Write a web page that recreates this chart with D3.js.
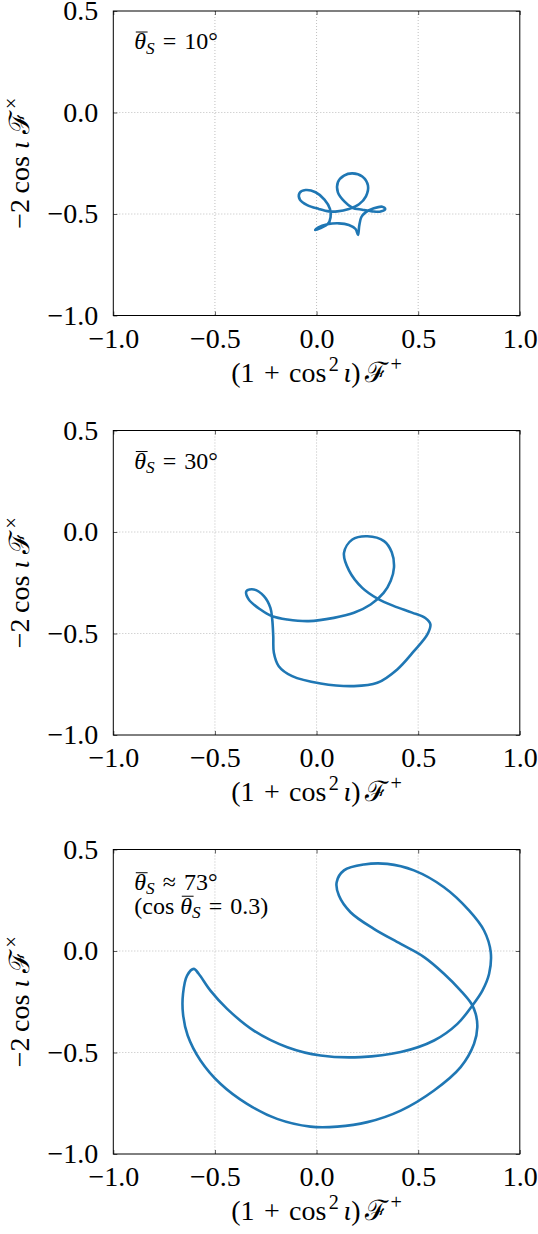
<!DOCTYPE html>
<html>
<head>
<meta charset="utf-8">
<script src="https://cdn.jsdelivr.net/npm/d3@7"></script>
<style>
body { margin: 0; background: #fff; }
svg { display: block; }
text { font-family: "Liberation Serif", "Times New Roman", serif; fill: #000; }
</style>
</head>
<body>
<svg id="fig" width="538" height="1234"></svg>
<script>
// ticks shared by the three panels
var xTicks = [-1.0, -0.5, 0.0, 0.5, 1.0]
var yTicks = [-1.0, -0.5, 0.0, 0.5]

// curves, [F+ term, Fx term]
var curve10 = [
	[0.204, -0.603], [0.210, -0.558], [0.220, -0.516], [0.241, -0.492], [0.282, -0.472],
	[0.323, -0.464], [0.338, -0.475], [0.315, -0.488], [0.274, -0.487], [0.225, -0.479],
	[0.176, -0.469], [0.138, -0.439], [0.105, -0.393], [0.105, -0.344], [0.135, -0.311],
	[0.176, -0.300], [0.225, -0.315], [0.253, -0.360], [0.243, -0.413], [0.209, -0.452],
	[0.159, -0.475], [0.102, -0.487], [0.061, -0.487], [0.011, -0.475], [-0.046, -0.456],
	[-0.082, -0.429], [-0.084, -0.397], [-0.054, -0.382], [-0.005, -0.393], [0.039, -0.429],
	[0.066, -0.475], [0.069, -0.516], [0.056, -0.549], [0.020, -0.569], [-0.007, -0.579],
	[0.007, -0.567], [0.053, -0.551], [0.110, -0.546], [0.159, -0.554], [0.192, -0.574]
]
var curve30 = [
	[0.135, -0.103], [0.160, -0.190], [0.225, -0.275], [0.300, -0.328], [0.381, -0.365],
	[0.470, -0.397], [0.535, -0.424], [0.560, -0.455], [0.546, -0.503], [0.479, -0.587],
	[0.397, -0.677], [0.299, -0.743], [0.184, -0.759], [0.020, -0.746], [-0.120, -0.710],
	[-0.186, -0.661], [-0.210, -0.595], [-0.213, -0.513], [-0.218, -0.431], [-0.227, -0.374],
	[-0.259, -0.316], [-0.309, -0.283], [-0.345, -0.291], [-0.333, -0.333], [-0.276, -0.382],
	[-0.218, -0.415], [-0.144, -0.431], [-0.038, -0.439], [0.085, -0.423], [0.184, -0.398],
	[0.266, -0.357], [0.330, -0.300], [0.365, -0.240], [0.381, -0.175], [0.370, -0.100],
	[0.332, -0.045], [0.250, -0.021], [0.176, -0.037]
]
var curve73 = [
	[-0.604, -0.088], [-0.637, -0.121], [-0.657, -0.211], [-0.657, -0.310], [-0.634, -0.416],
	[-0.571, -0.539], [-0.473, -0.654], [-0.342, -0.753], [-0.194, -0.827], [-0.030, -0.865],
	[0.102, -0.865], [0.250, -0.843], [0.414, -0.786], [0.578, -0.687], [0.709, -0.572],
	[0.775, -0.457], [0.791, -0.375], [0.783, -0.310], [0.762, -0.260], [0.709, -0.195],
	[0.627, -0.112], [0.529, -0.030], [0.414, 0.035], [0.282, 0.109], [0.167, 0.191],
	[0.110, 0.273], [0.099, 0.339], [0.135, 0.397], [0.233, 0.426], [0.348, 0.429],
	[0.479, 0.397], [0.627, 0.314], [0.750, 0.200], [0.824, 0.101], [0.857, -0.006],
	[0.849, -0.112], [0.816, -0.195], [0.767, -0.268], [0.693, -0.359], [0.578, -0.441],
	[0.414, -0.498], [0.217, -0.523], [0.020, -0.515], [-0.144, -0.474], [-0.309, -0.392],
	[-0.440, -0.285], [-0.522, -0.195], [-0.580, -0.112]
]

// annotation text, one list of lines per panel; [text, style]
var note10 = [[["θ", "bar"], ["S", "sub"], ["\u2004=\u200410°", ""]]]
var note30 = [[["θ", "bar"], ["S", "sub"], ["\u2004=\u200430°", ""]]]
var note73 = [
	[["θ", "bar"], ["S", "sub"], ["\u2004≈\u200473°", ""]],
	[["(cos\u2005", ""], ["θ", "bar"], ["S", "sub"], ["\u2004=\u20040.3)", ""]]
]
var xLabel = [["(1\u2004+\u2004cos", ""], ["2", "sup"], ["\u2006ι", "it"], [")\u2006", ""], ["ℱ", ""], ["+", "sup"]]
var yLabel = [["−2\u2009cos\u2005", ""], ["ι", "it"], ["\u2005", ""], ["ℱ", ""], ["×", "sup"]]

var panels = [
	{ curve: curve10, note: note10, top: 11 },
	{ curve: curve30, note: note30, top: 430.5 },
	{ curve: curve73, note: note73, top: 849.5 }
]

var LEFT = 113.3, W = 406.5, H = 304.5
var TICK_FS = 28, LABEL_FS = 28, NOTE_FS = 24

var svg = d3.select("#fig")
var x = d3.scaleLinear().domain([-1, 1]).range([0, W])
var y = d3.scaleLinear().domain([-1, 0.5]).range([H, 0])
var fmt = d3.format(".1f")
var line = d3.line()
	.x(d => x(d[0]))
	.y(d => y(d[1]))
	.curve(d3.curveCatmullRomClosed.alpha(0.5))

// writes a list of [text, style] segments as tspans, returns overline spots
var rich = (txt, segs, fs) => {
	var shift = 0, idx = 0, bars = []
	segs.forEach(s => {
		var t = txt.append("tspan").text(s[0])
		var want = s[1] === "sup" ? -0.38 * fs : s[1] === "sub" ? 0.18 * fs : 0
		if (want !== shift) { t.attr("dy", want - shift); shift = want }
		if (s[1] === "sup") t.attr("dx", 0.08 * fs)
		if (s[1] === "it" || s[1] === "sub" || s[1] === "bar") t.style("font-style", "italic")
		if (s[1] === "sup" || s[1] === "sub") t.style("font-size", (0.72 * fs) + "px")
		if (s[1] === "bar") bars.push(idx)
		idx += s[0].length
	})
	return bars
}

panels.forEach(p => {
	var g = svg.append("g").attr("transform", "translate(" + LEFT + "," + p.top + ")")

	// dotted grid
	var grid = g.append("g")
		.attr("stroke", "#b0b0b0")
		.attr("stroke-width", 0.8)
		.attr("stroke-dasharray", "1,2")
	grid.selectAll(".gx").data(xTicks.slice(1, -1)).enter().append("line")
		.attr("x1", d => x(d)).attr("x2", d => x(d))
		.attr("y1", 0).attr("y2", H)
	grid.selectAll(".gy").data(yTicks.slice(1, -1)).enter().append("line")
		.attr("y1", d => y(d)).attr("y2", d => y(d))
		.attr("x1", 0).attr("x2", W)

	// axes, ticks pointing in on every side
	g.append("g").attr("transform", "translate(0," + H + ")")
		.call(d3.axisBottom(x).tickValues(xTicks).tickFormat(fmt).tickSizeInner(-4).tickSizeOuter(0).tickPadding(12.5))
	g.append("g")
		.call(d3.axisLeft(y).tickValues(yTicks).tickFormat(fmt).tickSizeInner(-4).tickSizeOuter(0).tickPadding(15))
	g.append("g")
		.call(d3.axisTop(x).tickValues(xTicks).tickFormat("").tickSizeInner(-4).tickSizeOuter(0))
	g.append("g").attr("transform", "translate(" + W + ",0)")
		.call(d3.axisRight(y).tickValues(yTicks).tickFormat("").tickSizeInner(-4).tickSizeOuter(0))
	g.selectAll(".domain").remove()
	g.selectAll(".tick line").attr("stroke", "#333").attr("stroke-width", 0.8)
	g.selectAll(".tick text")
		.attr("font-family", "Liberation Serif, serif")
		.attr("font-size", TICK_FS)
		.attr("fill", "#000")

	// the curve
	g.append("path")
		.datum(p.curve)
		.attr("d", line)
		.attr("fill", "none")
		.attr("stroke", "#1f77b4")
		.attr("stroke-width", 2.6)
		.attr("stroke-linejoin", "round")

	// frame
	g.append("rect")
		.attr("width", W).attr("height", H)
		.attr("fill", "none")
		.attr("stroke", "#000")
		.attr("stroke-width", 1)

	// annotation in the upper left corner
	var base = p.note.length > 1 ? 40.5 : 38.3
	p.note.forEach((ln, k) => {
		var by = base + k * 23.5
		var t = g.append("text")
			.attr("x", 21).attr("y", by)
			.attr("font-size", NOTE_FS)
		var bars = rich(t, ln, NOTE_FS)
		bars.forEach(i => {
			var e = t.node().getExtentOfChar(i)
			g.append("line")
				.attr("x1", e.x + 1.5).attr("x2", e.x + e.width + 1.5)
				.attr("y1", by - 0.72 * NOTE_FS).attr("y2", by - 0.72 * NOTE_FS)
				.attr("stroke", "#000").attr("stroke-width", 1)
		})
	})

	// axis titles
	var xt = g.append("text")
		.attr("x", W / 2).attr("y", H + 66)
		.attr("text-anchor", "middle")
		.attr("font-size", LABEL_FS)
	rich(xt, xLabel, LABEL_FS)
	var yt = g.append("text")
		.attr("transform", "translate(" + (28.5 - LEFT) + "," + (H / 2) + ") rotate(-90)")
		.attr("text-anchor", "middle")
		.attr("font-size", LABEL_FS)
	rich(yt, yLabel, LABEL_FS)
})
</script>
</body>
</html>
